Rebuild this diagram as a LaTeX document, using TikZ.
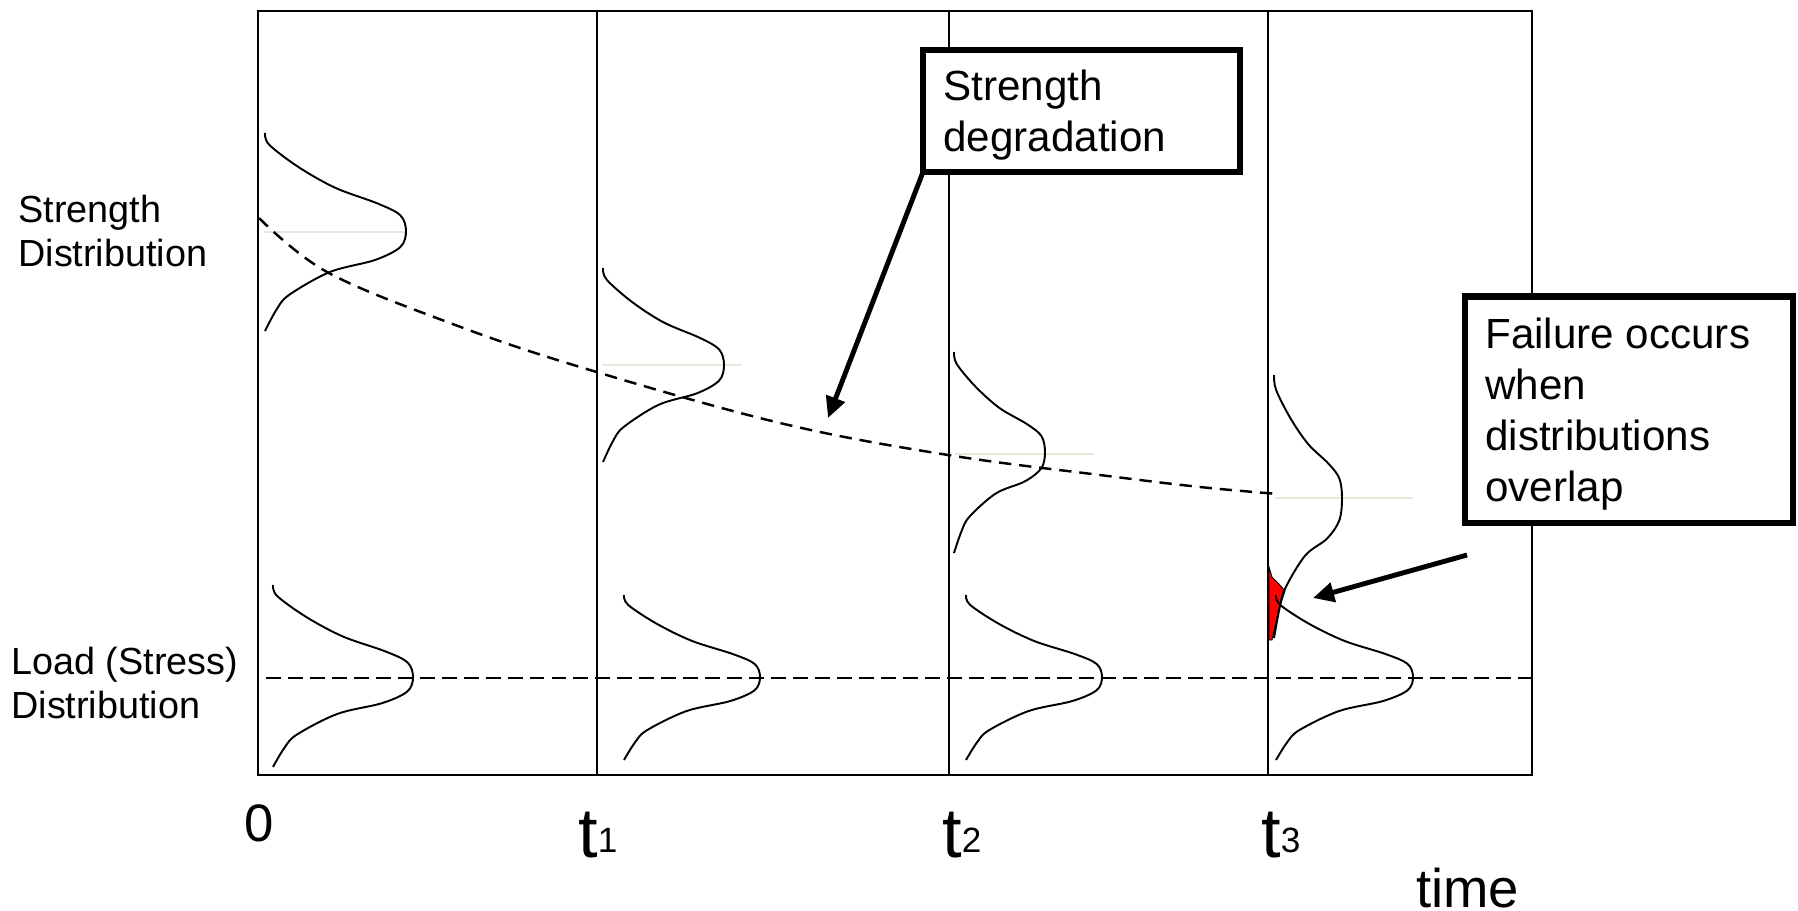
\documentclass[tikz,border=0pt]{standalone}
\usepackage{fontspec}
\setmainfont{Liberation Sans}
\usetikzlibrary{arrows.meta}
\definecolor{meanc}{RGB}{234,230,218}
\definecolor{overlapred}{RGB}{255,0,0}
\newcommand\subsc[1]{\raisebox{2.5pt}{\fontsize{20}{20}\selectfont #1}}
% #1 peak x, #2 peak y, #3 width, #4 upper extent, #5 lower extent
\newcommand\distcurve[5]{%
  \draw[curve] plot[smooth,tension=0.55] coordinates {
    ({#1-1.00*#3},{#2-1.00*#4})
    ({#1-0.97*#3},{#2-0.88*#4})
    ({#1-0.76*#3},{#2-0.65*#4})
    ({#1-0.50*#3},{#2-0.44*#4})
    ({#1-0.20*#3},{#2-0.28*#4})
    ({#1-0.04*#3},{#2-0.16*#4})
    ({#1},{#2})
    ({#1-0.04*#3},{#2+0.16*#5})
    ({#1-0.22*#3},{#2+0.29*#5})
    ({#1-0.54*#3},{#2+0.41*#5})
    ({#1-0.83*#3},{#2+0.64*#5})
    ({#1-0.92*#3},{#2+0.79*#5})
    ({#1-1.00*#3},{#2+1.00*#5})
  };}
\begin{document}
\begin{tikzpicture}[x=0.02cm,y=-0.02cm,
  frameline/.style={line width=1.1pt},
  curve/.style={line width=1.1pt},
  meanline/.style={line width=1.1pt,draw=meanc},
  degr/.style={line width=1.4pt,dash pattern=on 7pt off 4.5pt},
  loadline/.style={line width=1.2pt,dash pattern=on 8.5pt off 4pt},
  callbox/.style={draw,fill=white,line width=3.8pt,inner sep=0pt,outer sep=0pt,anchor=north west},
  boxtext/.style={align=left,inner sep=0pt,anchor=north west,font=\fontsize{24}{29}\selectfont},
  sidelabel/.style={align=left,inner sep=0pt,anchor=north west,font=\fontsize{21.5}{25}\selectfont},
  ticklabel/.style={inner sep=0pt,anchor=base west,font=\fontsize{40}{42}\selectfont},
  callarrow/.style={line width=2.8pt,-{Triangle[length=12pt,width=11pt]}}
]
\useasboundingbox (0,0) rectangle (1798,910);

% frame and time lines
\draw[frameline] (258,11) rectangle (1532,775);
\draw[frameline] (597,11) -- (597,775);
\draw[frameline] (949,11) -- (949,775);
\draw[frameline] (1268,11) -- (1268,775);

% mean lines of strength distributions
\draw[meanline] (264,232) -- (406,232);
\draw[meanline] (602,365) -- (742,365);
\draw[meanline] (955,454) -- (1094,454);
\draw[meanline] (1275,498) -- (1413,498);

% overlap region
\fill[overlapred,draw=black,line width=0.5pt] (1269,567) -- (1272,577) -- (1279,584) -- (1285,591) -- (1280,606) -- (1276,622) -- (1272,640) -- (1269,640) -- cycle;

% strength distributions
\distcurve{406}{231}{141}{98}{100}
\distcurve{724}{365}{121}{97}{97}
\distcurve{1045}{452}{91}{100}{101}
\distcurve{1342}{498}{68}{123}{140}

% load distributions
\distcurve{413}{677}{140}{92}{90}
\distcurve{760}{677}{136}{82}{83}
\distcurve{1102}{677}{136}{82}{83}
\distcurve{1413}{677}{137}{82}{83}

% strength degradation trend and load level
\draw[degr] plot[smooth,tension=0.6] coordinates {(259,218) (327,272) (450,323) (580,367) (780,423) (948,455) (1100,475) (1200,487) (1278,494)};
\draw[loadline] (266,678) -- (1535,678);

% side labels
\node[sidelabel] (strlbl) at (18,195) {Strength\\Distribution};
\node[sidelabel] (loadlbl) at (11,647) {Load (Stress)\\Distribution};

% callout boxes
\node[callbox,minimum width=6.34cm,minimum height=2.44cm] (sdbox) at (923,50) {};
\node[boxtext] (sdtext) at (943,70) {Strength\\degradation};
\node[callbox,minimum width=6.56cm,minimum height=4.53cm] (fobox) at (1465,296.5) {};
\node[boxtext] (fotext) at (1485,318) {Failure occurs\\when\\distributions\\overlap};

% arrows
\coordinate (a1tip) at (828,418);
\draw[callarrow] (sdbox.south west) -- (a1tip);
\coordinate (a2start) at (1467,555);
\coordinate (a2tip) at (1313,598);
\draw[callarrow] (a2start) -- (a2tip);

% time axis labels
\node[ticklabel,font=\fontsize{30}{32}\selectfont] (t0) at (244,841) {0};
\node[ticklabel] (t1) at (578,857) {t\subsc{1}};
\node[ticklabel] (t2) at (942,857) {t\subsc{2}};
\node[ticklabel] (t3) at (1261,857) {t\subsc{3}};
\node[ticklabel,font=\fontsize{31}{33}\selectfont] (timelbl) at (1416,907) {time};
\end{tikzpicture}
\end{document}
